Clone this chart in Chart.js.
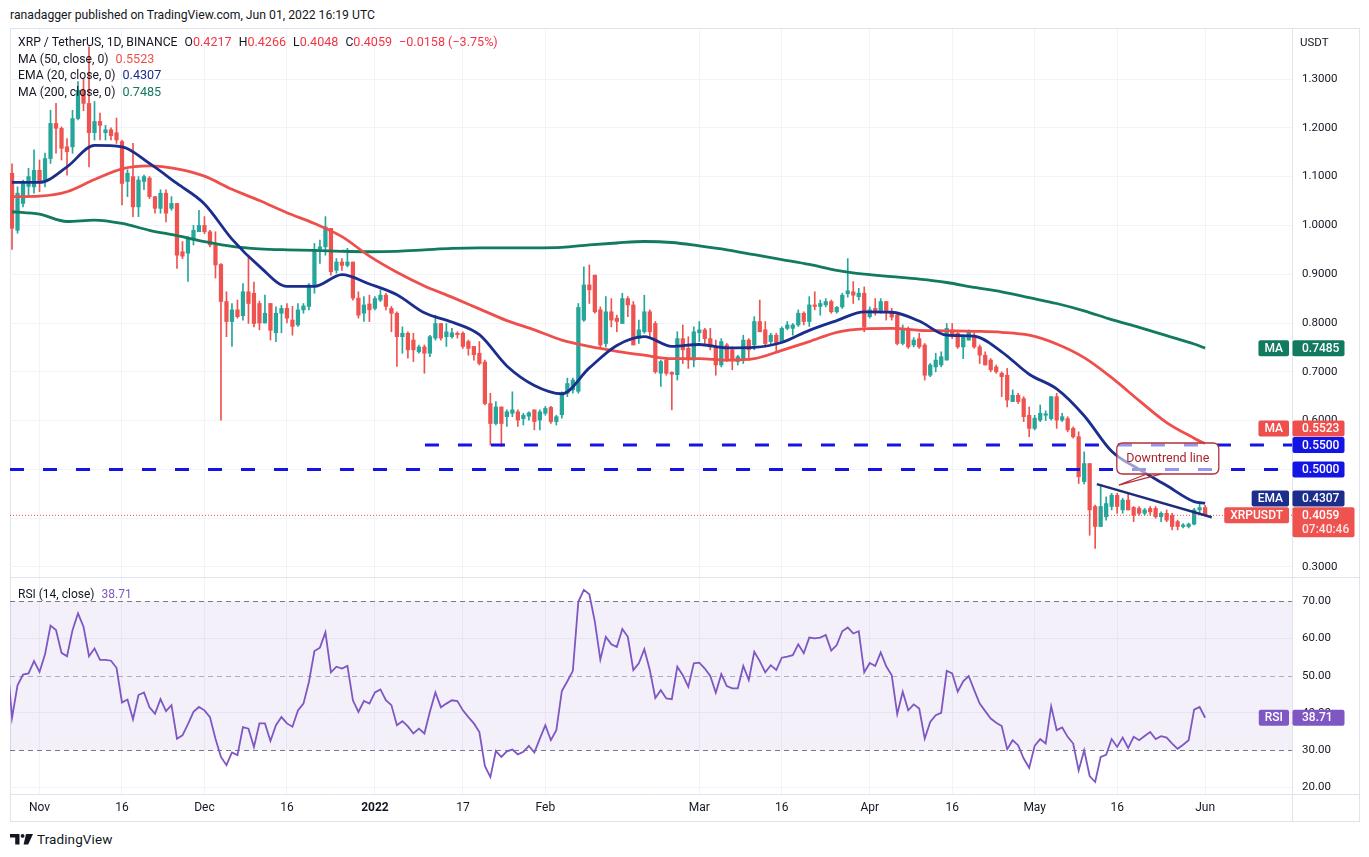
<!DOCTYPE html>
<html>
<head>
<meta charset="utf-8">
<script src="https://cdn.jsdelivr.net/npm/chart.js@4.4.1/dist/chart.umd.min.js"></script>
<style>
  html, body { margin: 0; padding: 0; background: #ffffff; }
  body { width: 1369px; height: 857px; position: relative; overflow: hidden;
         font-family: Roboto, "Noto Sans", sans-serif; color: #131722; }
  #hdr { position: absolute; left: 10px; top: 7px; font-size: 12.2px; line-height: 16px; color: #131722; }
  #frame { position: absolute; left: 10px; top: 28px; width: 1350px; height: 794px;
           border: 1px solid #e0e3eb; box-sizing: border-box; }
  #c1 { position: absolute; left: 10px; top: 29px; }
  #c2 { position: absolute; left: 10px; top: 577px; }
  #legend { position: absolute; left: 18px; top: 34px; font-size: 12.2px; line-height: 16.7px; color: #131722; }
  #legend span.sp { display: inline-block; width: 7px; }
  #legend span.v { font-size: 12.6px; }
  #rsiLegend { position: absolute; left: 18px; top: 586px; font-size: 12px; line-height: 16px; color: #131722; }
  #usdt { position: absolute; left: 1300px; top: 35px; font-size: 11.5px; line-height: 14px; color: #131722; }
  #logo { position: absolute; left: 10px; top: 831px; height: 16px; display: flex; align-items: center; }
  #logo span { font-size: 13.5px; color: #131722; margin-left: 3px; letter-spacing: 0.1px; }
</style>
</head>
<body>
<div id="hdr">ranadagger published on TradingView.com, Jun 01, 2022 16:19 UTC</div>
<div id="frame"></div>
<canvas id="c1" width="1350" height="548" style="width:1350px;height:548px"></canvas>
<canvas id="c2" width="1350" height="245" style="width:1350px;height:245px"></canvas>
<div id="legend"></div>
<div id="rsiLegend"></div>
<div id="usdt">USDT</div>
<div id="logo">
  <svg width="24" height="11" viewBox="0 0 24 11"><path d="M0 0H9.5V10.5H5.2V3.6H0Z" fill="#131722"/><circle cx="12.6" cy="1.9" r="1.9" fill="#131722"/><path d="M16 0H23L18.2 10.5H13.6Z" fill="#131722"/></svg>
  <span>TradingView</span>
</div>

<script>
// ---------------- DATA (day 0 = 1 Nov 2021) ----------------
const startDay = -5; // first candle: 27 Oct 2021

const opens = [
  1.107, 0.990, 1.045, 1.080, 1.079, 1.113, 1.093, 1.137, 1.209, 1.199,
  1.161, 1.161, 1.219, 1.277, 1.250, 1.190, 1.213, 1.190, 1.196, 1.190,
  1.172, 1.090, 1.100, 1.038, 1.090, 1.097, 1.059, 1.035, 1.066, 1.035,
  1.045, 0.946, 0.943, 0.970, 0.987, 1.000, 0.987, 0.960, 0.920, 0.844,
  0.803, 0.827, 0.815, 0.864, 0.861, 0.840, 0.800, 0.840, 0.780, 0.820,
  0.830, 0.806, 0.796, 0.827, 0.834, 0.878, 0.952, 0.956, 0.994, 0.908,
  0.925, 0.918, 0.925, 0.851, 0.820, 0.839, 0.830, 0.847, 0.857, 0.830,
  0.820, 0.772, 0.779, 0.765, 0.741, 0.751, 0.738, 0.769, 0.799, 0.772,
  0.772, 0.779, 0.779, 0.762, 0.752, 0.738, 0.720, 0.635, 0.594, 0.628,
  0.608, 0.615, 0.618, 0.604, 0.609, 0.622, 0.601, 0.615, 0.627, 0.598,
  0.612, 0.656, 0.663, 0.660, 0.806, 0.878, 0.898, 0.827, 0.758, 0.823,
  0.810, 0.799, 0.850, 0.837, 0.768, 0.782, 0.823, 0.799, 0.697, 0.724,
  0.699, 0.694, 0.768, 0.748, 0.724, 0.780, 0.786, 0.768, 0.751, 0.714,
  0.755, 0.745, 0.721, 0.724, 0.765, 0.755, 0.803, 0.786, 0.762, 0.775,
  0.762, 0.789, 0.789, 0.796, 0.820, 0.803, 0.837, 0.834, 0.837, 0.844,
  0.823, 0.833, 0.860, 0.864, 0.854, 0.861, 0.813, 0.830, 0.823, 0.844,
  0.823, 0.816, 0.758, 0.789, 0.755, 0.768, 0.755, 0.693, 0.710, 0.714,
  0.724, 0.786, 0.779, 0.751, 0.765, 0.775, 0.751, 0.734, 0.724, 0.710,
  0.697, 0.693, 0.639, 0.652, 0.645, 0.611, 0.584, 0.601, 0.611, 0.604,
  0.649, 0.601, 0.604, 0.584, 0.567, 0.475, 0.512, 0.424, 0.383, 0.403,
  0.424, 0.447, 0.417, 0.437, 0.422, 0.420, 0.410, 0.420, 0.420, 0.403,
  0.410, 0.406, 0.393, 0.383, 0.383, 0.388, 0.417, 0.4217
];
const highs = [
  1.126, 1.079, 1.093, 1.117, 1.155, 1.134, 1.148, 1.236, 1.250, 1.202,
  1.178, 1.236, 1.295, 1.300, 1.366, 1.254, 1.230, 1.205, 1.200, 1.220,
  1.175, 1.114, 1.168, 1.100, 1.103, 1.100, 1.059, 1.073, 1.073, 1.059,
  1.045, 0.967, 0.977, 1.000, 1.031, 1.018, 0.990, 0.987, 0.922, 0.864,
  0.840, 0.847, 0.881, 0.939, 0.884, 0.845, 0.857, 0.840, 0.833, 0.836,
  0.840, 0.834, 0.840, 0.840, 0.881, 0.963, 0.970, 1.018, 0.994, 0.932,
  0.932, 0.953, 0.925, 0.864, 0.854, 0.857, 0.854, 0.868, 0.861, 0.834,
  0.823, 0.792, 0.782, 0.779, 0.755, 0.755, 0.775, 0.816, 0.799, 0.799,
  0.789, 0.782, 0.782, 0.765, 0.752, 0.762, 0.724, 0.656, 0.639, 0.628,
  0.622, 0.659, 0.622, 0.615, 0.618, 0.622, 0.622, 0.629, 0.629, 0.611,
  0.659, 0.687, 0.687, 0.840, 0.915, 0.919, 0.898, 0.833, 0.854, 0.850,
  0.816, 0.861, 0.854, 0.844, 0.806, 0.857, 0.827, 0.803, 0.724, 0.728,
  0.700, 0.782, 0.796, 0.772, 0.792, 0.803, 0.789, 0.789, 0.765, 0.768,
  0.758, 0.751, 0.734, 0.775, 0.768, 0.813, 0.847, 0.803, 0.779, 0.779,
  0.792, 0.803, 0.799, 0.827, 0.823, 0.854, 0.864, 0.847, 0.850, 0.847,
  0.834, 0.861, 0.932, 0.885, 0.871, 0.874, 0.833, 0.850, 0.850, 0.844,
  0.830, 0.820, 0.796, 0.792, 0.770, 0.779, 0.758, 0.717, 0.738, 0.741,
  0.799, 0.799, 0.782, 0.775, 0.786, 0.779, 0.755, 0.741, 0.727, 0.714,
  0.700, 0.707, 0.663, 0.656, 0.649, 0.628, 0.611, 0.632, 0.620, 0.649,
  0.656, 0.615, 0.608, 0.587, 0.577, 0.536, 0.512, 0.427, 0.468, 0.444,
  0.451, 0.451, 0.441, 0.451, 0.424, 0.424, 0.420, 0.424, 0.424, 0.413,
  0.417, 0.410, 0.396, 0.389, 0.390, 0.420, 0.434, 0.4266
];
const lows = [
  0.951, 0.984, 1.038, 1.060, 1.066, 1.069, 1.079, 1.127, 1.148, 1.134,
  1.103, 1.148, 1.216, 1.235, 1.120, 1.175, 1.175, 1.175, 1.175, 1.168,
  1.042, 1.059, 1.018, 1.018, 1.073, 1.055, 1.025, 1.025, 1.007, 1.031,
  0.912, 0.932, 0.885, 0.960, 0.987, 0.983, 0.956, 0.892, 0.601, 0.772,
  0.752, 0.810, 0.806, 0.799, 0.792, 0.786, 0.800, 0.765, 0.762, 0.780,
  0.800, 0.775, 0.793, 0.820, 0.827, 0.861, 0.922, 0.939, 0.898, 0.902,
  0.908, 0.915, 0.847, 0.810, 0.803, 0.803, 0.827, 0.844, 0.827, 0.782,
  0.711, 0.738, 0.728, 0.721, 0.738, 0.697, 0.731, 0.765, 0.765, 0.752,
  0.769, 0.769, 0.748, 0.734, 0.724, 0.714, 0.632, 0.550, 0.591, 0.547,
  0.588, 0.608, 0.588, 0.591, 0.601, 0.581, 0.581, 0.611, 0.594, 0.591,
  0.605, 0.649, 0.656, 0.656, 0.803, 0.840, 0.820, 0.751, 0.751, 0.792,
  0.782, 0.799, 0.813, 0.755, 0.758, 0.779, 0.772, 0.697, 0.670, 0.693,
  0.622, 0.683, 0.717, 0.707, 0.710, 0.762, 0.758, 0.745, 0.693, 0.710,
  0.721, 0.704, 0.714, 0.717, 0.724, 0.745, 0.782, 0.751, 0.755, 0.741,
  0.762, 0.786, 0.775, 0.793, 0.796, 0.793, 0.827, 0.816, 0.833, 0.820,
  0.820, 0.830, 0.853, 0.840, 0.847, 0.782, 0.810, 0.816, 0.820, 0.806,
  0.806, 0.755, 0.755, 0.748, 0.751, 0.748, 0.683, 0.690, 0.700, 0.710,
  0.724, 0.768, 0.748, 0.727, 0.765, 0.748, 0.717, 0.714, 0.700, 0.697,
  0.649, 0.628, 0.639, 0.635, 0.598, 0.567, 0.581, 0.598, 0.600, 0.601,
  0.584, 0.598, 0.577, 0.564, 0.471, 0.470, 0.365, 0.338, 0.383, 0.396,
  0.417, 0.410, 0.410, 0.417, 0.393, 0.406, 0.406, 0.406, 0.400, 0.393,
  0.393, 0.376, 0.376, 0.380, 0.380, 0.386, 0.410, 0.4048
];
const closes = [
  0.994, 1.066, 1.086, 1.100, 1.113, 1.090, 1.137, 1.209, 1.199, 1.158,
  1.151, 1.219, 1.277, 1.250, 1.190, 1.213, 1.205, 1.196, 1.184, 1.175,
  1.086, 1.107, 1.038, 1.093, 1.100, 1.059, 1.035, 1.066, 1.025, 1.045,
  0.939, 0.937, 0.974, 0.990, 1.000, 0.987, 0.960, 0.919, 0.844, 0.803,
  0.827, 0.813, 0.864, 0.840, 0.799, 0.800, 0.820, 0.785, 0.820, 0.830,
  0.810, 0.793, 0.827, 0.835, 0.878, 0.950, 0.956, 0.997, 0.905, 0.925,
  0.918, 0.925, 0.851, 0.816, 0.837, 0.827, 0.850, 0.857, 0.834, 0.820,
  0.772, 0.779, 0.745, 0.745, 0.751, 0.738, 0.772, 0.799, 0.769, 0.782,
  0.780, 0.776, 0.752, 0.748, 0.735, 0.717, 0.635, 0.594, 0.628, 0.594,
  0.618, 0.622, 0.601, 0.611, 0.616, 0.598, 0.618, 0.625, 0.598, 0.608,
  0.656, 0.676, 0.683, 0.832, 0.878, 0.868, 0.823, 0.755, 0.823, 0.806,
  0.803, 0.850, 0.837, 0.755, 0.786, 0.823, 0.782, 0.700, 0.721, 0.697,
  0.695, 0.768, 0.745, 0.724, 0.782, 0.786, 0.768, 0.751, 0.714, 0.762,
  0.724, 0.724, 0.731, 0.765, 0.745, 0.803, 0.782, 0.758, 0.775, 0.758,
  0.789, 0.796, 0.796, 0.820, 0.803, 0.837, 0.834, 0.840, 0.844, 0.823,
  0.832, 0.857, 0.866, 0.857, 0.861, 0.792, 0.827, 0.823, 0.844, 0.823,
  0.812, 0.758, 0.789, 0.751, 0.765, 0.751, 0.693, 0.714, 0.724, 0.731,
  0.789, 0.772, 0.751, 0.772, 0.782, 0.751, 0.734, 0.714, 0.704, 0.700,
  0.690, 0.642, 0.652, 0.639, 0.608, 0.584, 0.605, 0.615, 0.614, 0.649,
  0.601, 0.608, 0.581, 0.567, 0.485, 0.512, 0.417, 0.383, 0.424, 0.430,
  0.447, 0.424, 0.437, 0.417, 0.406, 0.410, 0.417, 0.413, 0.403, 0.410,
  0.396, 0.383, 0.383, 0.386, 0.388, 0.417, 0.4217, 0.4059
];

// moving averages every 5 days
const maDays = [-5, 0, 5, 10, 15, 20, 25, 30, 35, 40, 45, 50, 55, 60, 65, 70, 75, 80, 85, 90,
  95, 100, 105, 110, 115, 120, 125, 130, 135, 140, 145, 150, 155, 160, 165, 170, 175, 180, 185, 190,
  195, 200, 205, 210, 212];
const ema20 = [1.088, 1.088, 1.120, 1.164, 1.161, 1.127, 1.086, 1.044, 0.972, 0.916,
  0.875, 0.875, 0.899, 0.880, 0.858, 0.821, 0.802, 0.776, 0.712, 0.672,
  0.655, 0.708, 0.754, 0.772, 0.752, 0.756, 0.749, 0.750, 0.760, 0.785,
  0.805, 0.823, 0.822, 0.804, 0.775, 0.773, 0.741, 0.695, 0.665, 0.610,
  0.537, 0.500, 0.467, 0.434, 0.4307];
const ma50 = [1.059, 1.060, 1.069, 1.094, 1.116, 1.122, 1.116, 1.101, 1.074, 1.051,
  1.026, 1.004, 0.977, 0.937, 0.904, 0.876, 0.853, 0.829, 0.805, 0.786,
  0.765, 0.752, 0.742, 0.734, 0.727, 0.727, 0.724, 0.727, 0.744, 0.762,
  0.781, 0.788, 0.789, 0.785, 0.784, 0.783, 0.781, 0.775, 0.757, 0.729,
  0.688, 0.641, 0.596, 0.564, 0.5523];
const ma200 = [1.028, 1.023, 1.008, 1.011, 1.004, 0.990, 0.979, 0.967, 0.957, 0.952,
  0.950, 0.949, 0.947, 0.946, 0.947, 0.950, 0.953, 0.954, 0.954, 0.954,
  0.955, 0.960, 0.964, 0.967, 0.965, 0.958, 0.950, 0.940, 0.930, 0.920,
  0.908, 0.900, 0.895, 0.890, 0.883, 0.873, 0.864, 0.852, 0.840, 0.825,
  0.807, 0.791, 0.774, 0.757, 0.7485];

// RSI(14), one value per day starting 26 Oct 2021
const rsiStartDay = -6;
const rsi = [56.0,
  38.7, 47.4, 50.3, 50.6, 53.9, 51.0, 55.7, 63.4, 62.2, 56.1,
  55.2, 62.2, 66.7, 63.1, 55.2, 57.3, 54.2, 54.2, 54.0, 52.1,
  42.8, 43.6, 38.3, 44.8, 45.5, 41.5, 39.8, 43.7, 40.5, 42.1,
  33.1, 34.0, 37.0, 40.3, 41.6, 40.7, 38.9, 33.1, 28.2, 26.0,
  29.4, 28.7, 36.2, 35.8, 30.9, 37.2, 37.2, 32.5, 36.7, 38.9,
  37.2, 36.3, 40.7, 42.5, 48.3, 56.6, 57.5, 61.6, 50.9, 52.4,
  51.9, 52.6, 43.4, 40.3, 43.2, 42.5, 45.5, 46.3, 43.4, 42.1,
  36.7, 37.8, 36.4, 34.5, 35.8, 34.5, 40.3, 45.5, 41.5, 42.5,
  43.4, 43.2, 40.7, 38.9, 37.2, 34.9, 25.8, 22.8, 29.8, 28.2,
  29.7, 30.2, 28.9, 29.6, 31.2, 29.4, 33.1, 36.7, 32.7, 35.4,
  45.9, 48.5, 51.3, 69.8, 73.0, 71.8, 64.5, 54.3, 60.4, 58.4,
  57.7, 62.5, 60.4, 51.5, 53.3, 57.1, 51.5, 44.0, 46.1, 43.9,
  43.7, 52.4, 50.1, 47.0, 53.3, 53.5, 51.9, 49.9, 45.4, 50.4,
  47.2, 46.6, 46.6, 52.6, 48.8, 56.4, 53.9, 50.9, 52.8, 51.5,
  54.8, 55.1, 55.5, 58.4, 56.0, 60.2, 60.0, 60.2, 60.9, 56.7,
  58.2, 61.9, 62.9, 61.3, 61.9, 50.9, 53.4, 52.6, 56.2, 52.5,
  50.1, 39.7, 45.7, 40.7, 42.3, 41.2, 33.1, 37.6, 39.4, 40.0,
  51.3, 50.6, 45.7, 48.5, 49.9, 46.1, 42.5, 40.5, 38.5, 37.4,
  36.5, 30.3, 32.7, 31.3, 27.8, 25.3, 31.2, 33.0, 31.8, 41.8,
  35.4, 36.1, 33.6, 31.8, 24.6, 30.0, 23.1, 21.5, 28.2, 28.8,
  33.0, 30.9, 33.4, 30.6, 33.6, 32.7, 33.8, 34.9, 33.0, 33.8,
  33.4, 31.8, 30.4, 31.5, 32.7, 40.9, 41.6, 38.71];

// horizontal levels and drawn trend line
const levels = [0.55, 0.50];
const levelStartDays = [70.1, -5.37];
const trendDays = [192.3, 213.2];
const trendValues = [0.470, 0.402];

// axis ticks
const priceTicks = [0.3, 0.4, 0.5, 0.6, 0.7, 0.8, 0.9, 1.0, 1.1, 1.2, 1.3];
const rsiTicks = [20, 30, 40, 50, 60, 70];
const rsiBands = [70, 50, 30];
const timeTickDays = [0, 15, 30, 45, 61, 77, 92, 120, 135, 151, 166, 181, 196, 212];
const timeTickLabels = ['Nov', '16', 'Dec', '16', '2022', '17', 'Feb', 'Mar', '16', 'Apr', '16', 'May', '16', 'Jun'];
const countdown = '07:40:46';

// ---------------- STYLE ----------------
const FONT = 'Roboto, "Noto Sans", sans-serif';
const GRID = '#f0f3fa';
const AXIS = '#e0e3eb';
const UP = '#26a69a', DOWN = '#ef5350';
const C_EMA = '#1b2d8d', C_MA50 = '#ef4f4c', C_MA200 = '#127a5f', C_LEVEL = '#1414e4', C_RSI = '#7e57c2';
const X_MIN = -5.37, X_MAX = 227.8;

const last = closes.length - 1;
const candleDays = closes.map((_, i) => startDay + i);
const candleColors = closes.map((c, i) => (c >= opens[i] ? UP : DOWN));

// ---------------- LEGENDS ----------------
const red = v => '<span class="v" style="color:#f23645">' + v + '</span>';
const col = (v, c) => '<span class="v" style="color:' + c + '">' + v + '</span>';
const sp = '<span class="sp"></span>';
const chg = closes[last] - closes[last - 1];
const pct = chg / closes[last - 1] * 100;
const sgn = v => (v < 0 ? '\u2212' : '+');
const chgTxt = sgn(chg) + Math.abs(chg).toFixed(4) + ' (' + sgn(pct) + Math.abs(pct).toFixed(2) + '%)';
document.getElementById('legend').innerHTML =
  'XRP / TetherUS, 1D, BINANCE' + sp + 'O' + red(opens[last].toFixed(4)) +
  sp + 'H' + red(highs[last].toFixed(4)) +
  sp + 'L' + red(lows[last].toFixed(4)) +
  sp + 'C' + red(closes[last].toFixed(4)) +
  sp + red(chgTxt) + '<br>' +
  'MA (50, close, 0)' + sp + col(ma50[ma50.length - 1].toFixed(4), C_MA50) + '<br>' +
  'EMA (20, close, 0)' + sp + col(ema20[ema20.length - 1].toFixed(4), C_EMA) + '<br>' +
  'MA (200, close, 0)' + sp + col(ma200[ma200.length - 1].toFixed(4), C_MA200);
document.getElementById('rsiLegend').innerHTML =
  'RSI (14, close)<span style="display:inline-block;width:7px"></span><span style="color:' + C_RSI + '">' + rsi[rsi.length - 1].toFixed(2) + '</span>';

// ---------------- HELPERS ----------------
function rrect(ctx, x, y, w, h, r) {
  ctx.beginPath();
  ctx.moveTo(x + r, y);
  ctx.lineTo(x + w - r, y); ctx.quadraticCurveTo(x + w, y, x + w, y + r);
  ctx.lineTo(x + w, y + h - r); ctx.quadraticCurveTo(x + w, y + h, x + w - r, y + h);
  ctx.lineTo(x + r, y + h); ctx.quadraticCurveTo(x, y + h, x, y + h - r);
  ctx.lineTo(x, y + r); ctx.quadraticCurveTo(x, y, x + r, y);
  ctx.closePath();
}
function tag(ctx, area, yc, name, value, bg, extra) {
  ctx.save();
  ctx.font = '500 12px ' + FONT;
  ctx.textBaseline = 'middle';
  const vx = area.right + 0.5;
  const vw = extra ? 62 : 52;
  const vh = extra ? 30 : 16;
  ctx.fillStyle = bg;
  rrect(ctx, vx, yc - 8, vw, vh, 2); ctx.fill();
  ctx.fillStyle = '#ffffff';
  ctx.textAlign = 'left';
  ctx.fillText(value, area.right + 10, yc + 0.5);
  if (extra) { ctx.fillStyle = 'rgba(255,255,255,0.85)'; ctx.fillText(extra, area.right + 10, yc + 14.5); }
  if (name) {
    const tw = ctx.measureText(name).width + 12;
    const nx = area.right - 3 - tw;
    ctx.fillStyle = bg;
    rrect(ctx, nx, yc - 8, tw, 16, 2); ctx.fill();
    ctx.fillStyle = '#ffffff';
    ctx.textAlign = 'center';
    ctx.fillText(name, nx + tw / 2, yc + 0.5);
  }
  ctx.restore();
}
const linePts = (xs, ys) => xs.map((d, i) => ({ x: d, y: ys[i] }));

// ---------------- MAIN CHART ----------------
const calloutPlugin = {
  id: 'callout',
  afterDatasetsDraw(chart) {
    const { ctx, scales: { x, y } } = chart;
    const tx = x.getPixelForValue(196.3), ty = y.getPixelForValue(0.468);
    const bx = tx - 2, by = ty - 42, bw = 102, bh = 31;
    ctx.save();
    ctx.fillStyle = 'rgba(255,255,255,0.55)';
    ctx.strokeStyle = '#b3303a';
    ctx.lineWidth = 1.3;
    rrect(ctx, bx, by, bw, bh, 6); ctx.fill(); ctx.stroke();
    ctx.beginPath();
    ctx.moveTo(bx + 30, by + bh); ctx.lineTo(tx, ty); ctx.lineTo(bx + 44, by + bh);
    ctx.stroke();
    ctx.fillStyle = '#a8252f';
    ctx.font = '12.5px ' + FONT;
    ctx.textAlign = 'center'; ctx.textBaseline = 'middle';
    ctx.fillText('Downtrend line', bx + bw / 2, by + bh / 2 + 0.5);
    ctx.restore();
  },
  afterDraw(chart) {
    const { ctx, chartArea: a, scales: { y } } = chart;
    tag(ctx, a, y.getPixelForValue(ma200[ma200.length - 1]), 'MA', ma200[ma200.length - 1].toFixed(4), C_MA200);
    tag(ctx, a, y.getPixelForValue(levels[0]), null, levels[0].toFixed(4), C_LEVEL);
    tag(ctx, a, y.getPixelForValue(levels[1]), null, levels[1].toFixed(4), C_LEVEL);
    tag(ctx, a, y.getPixelForValue(ma50[ma50.length - 1]) - 15.3, 'MA', ma50[ma50.length - 1].toFixed(4), C_MA50);
    tag(ctx, a, y.getPixelForValue(ema20[ema20.length - 1]) - 4.7, 'EMA', ema20[ema20.length - 1].toFixed(4), C_EMA);
    tag(ctx, a, y.getPixelForValue(closes[last]), 'XRPUSDT', closes[last].toFixed(4), '#ef5350', countdown);
  }
};

new Chart(document.getElementById('c1'), {
  type: 'bar',
  data: {
    datasets: [
      { type: 'line', data: linePts(maDays, ema20), borderColor: C_EMA, borderWidth: 2.8, pointRadius: 0, cubicInterpolationMode: 'monotone', order: 1 },
      { type: 'line', data: linePts(maDays, ma50), borderColor: C_MA50, borderWidth: 2.8, pointRadius: 0, cubicInterpolationMode: 'monotone', order: 1 },
      { type: 'line', data: linePts(maDays, ma200), borderColor: C_MA200, borderWidth: 2.8, pointRadius: 0, cubicInterpolationMode: 'monotone', order: 1 },
      { type: 'line', data: [{ x: levelStartDays[0], y: levels[0] }, { x: X_MAX, y: levels[0] }], borderColor: C_LEVEL, borderWidth: 3, borderDash: [14, 19], pointRadius: 0, order: 2 },
      { type: 'line', data: [{ x: levelStartDays[1], y: levels[1] }, { x: X_MAX, y: levels[1] }], borderColor: C_LEVEL, borderWidth: 3, borderDash: [14, 19], pointRadius: 0, order: 2 },
      { type: 'line', data: linePts(trendDays, trendValues), borderColor: '#1e2d7a', borderWidth: 2.4, pointRadius: 0, order: 1 },
      { type: 'line', data: [{ x: X_MIN, y: closes[last] }, { x: X_MAX, y: closes[last] }], borderColor: '#ef5350', borderWidth: 1, borderDash: [1, 2], pointRadius: 0, order: 4 },
      { type: 'bar', data: candleDays.map((d, i) => ({ x: d, y: [opens[i], closes[i]] })), backgroundColor: candleColors, barThickness: 3.6, minBarLength: 1, grouped: false, borderWidth: 0, order: 5 },
      { type: 'bar', data: candleDays.map((d, i) => ({ x: d, y: [lows[i], highs[i]] })), backgroundColor: candleColors, barThickness: 1, grouped: false, borderWidth: 0, order: 6 }
    ]
  },
  options: {
    responsive: false, animation: false, events: [],
    layout: { padding: 0 },
    plugins: { legend: { display: false }, tooltip: { enabled: false } },
    scales: {
      x: {
        type: 'linear', min: X_MIN, max: X_MAX, offset: false,
        grid: { color: GRID, drawTicks: false, offset: false },
        border: { display: false },
        ticks: { display: false },
        afterBuildTicks: s => { s.ticks = timeTickDays.map(v => ({ value: v })); },
        afterFit: s => { s.height = 0; s.paddingLeft = 0; s.paddingRight = 0; }
      },
      y: {
        type: 'linear', position: 'right', min: 0.2795, max: 1.4025,
        grid: { color: GRID, drawTicks: false },
        border: { color: AXIS },
        ticks: { padding: 10, color: '#131722', font: { family: FONT, size: 11.5 }, callback: v => Number(v).toFixed(4) },
        afterBuildTicks: s => { s.ticks = priceTicks.map(v => ({ value: v })); },
        afterFit: s => { s.width = 68; s.paddingTop = 0; s.paddingBottom = 0; }
      }
    }
  },
  plugins: [calloutPlugin]
});

// ---------------- RSI CHART ----------------
const rsiPlugin = {
  id: 'rsiBand',
  beforeDatasetsDraw(chart) {
    const { ctx, chartArea: a, scales: { y } } = chart;
    ctx.save();
    ctx.fillStyle = 'rgba(126,87,194,0.09)';
    const yt = y.getPixelForValue(rsiBands[0]), yb = y.getPixelForValue(rsiBands[2]);
    ctx.fillRect(a.left, yt, a.right - a.left, yb - yt);
    ctx.lineWidth = 1;
    ctx.setLineDash([5, 4]);
    rsiBands.forEach((v, i) => {
      ctx.strokeStyle = i === 1 ? 'rgba(120,123,134,0.55)' : '#787b86';
      const py = Math.round(y.getPixelForValue(v)) + 0.5;
      ctx.beginPath(); ctx.moveTo(a.left, py); ctx.lineTo(a.right, py); ctx.stroke();
    });
    ctx.restore();
  },
  afterDraw(chart) {
    const { ctx, chartArea: a, scales: { y } } = chart;
    ctx.save();
    ctx.strokeStyle = AXIS; ctx.lineWidth = 1;
    ctx.beginPath();
    ctx.moveTo(0, 0.5); ctx.lineTo(chart.width, 0.5);
    ctx.moveTo(a.right, a.bottom + 0.5); ctx.lineTo(chart.width, a.bottom + 0.5);
    ctx.moveTo(a.right + 0.5, a.bottom); ctx.lineTo(a.right + 0.5, chart.height);
    ctx.stroke();
    ctx.restore();
    tag(ctx, a, y.getPixelForValue(rsi[rsi.length - 1]), 'RSI', rsi[rsi.length - 1].toFixed(2), C_RSI);
  }
};

new Chart(document.getElementById('c2'), {
  type: 'line',
  data: {
    datasets: [
      { data: rsi.map((v, i) => ({ x: rsiStartDay + i, y: v })), borderColor: C_RSI, borderWidth: 1.8, pointRadius: 0, tension: 0 }
    ]
  },
  options: {
    responsive: false, animation: false, events: [],
    layout: { padding: { top: 1, left: 0, right: 0, bottom: 0 } },
    plugins: { legend: { display: false }, tooltip: { enabled: false } },
    scales: {
      x: {
        type: 'linear', min: X_MIN, max: X_MAX, offset: false,
        grid: { color: GRID, drawTicks: false },
        border: { color: AXIS },
        ticks: {
          padding: 7, color: '#131722', maxRotation: 0, autoSkip: false,
          font: c => ({ family: FONT, size: 12, weight: timeTickLabels[c.index] === '2022' ? 'bold' : 'normal' }),
          callback: (v, i) => timeTickLabels[i]
        },
        afterBuildTicks: s => { s.ticks = timeTickDays.map(v => ({ value: v })); },
        afterFit: s => { s.height = 28; s.paddingLeft = 0; s.paddingRight = 0; }
      },
      y: {
        type: 'linear', position: 'right', min: 18.28, max: 76.17,
        grid: { color: c => (c.tick && rsiBands.includes(c.tick.value) ? 'rgba(0,0,0,0)' : GRID), drawTicks: false },
        border: { color: AXIS },
        ticks: { padding: 10, color: '#131722', font: { family: FONT, size: 11.5 }, callback: v => Number(v).toFixed(2) },
        afterBuildTicks: s => { s.ticks = rsiTicks.map(v => ({ value: v })); },
        afterFit: s => { s.width = 68; s.paddingTop = 0; s.paddingBottom = 0; }
      }
    }
  },
  plugins: [rsiPlugin]
});
</script>
</body>
</html>
